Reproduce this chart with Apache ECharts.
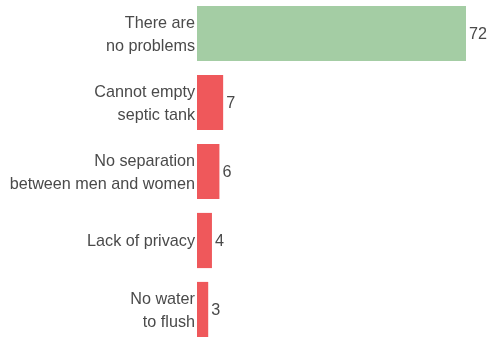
<!DOCTYPE html>
<html><head><meta charset="utf-8">
<script src="https://cdn.jsdelivr.net/npm/echarts@6/dist/echarts.min.js"></script>
<style>html,body{margin:0;padding:0;background:#fff}#c{width:491px;height:337px}</style>
</head><body><div id="c"></div>
<script>
const categories = ["There are\nno problems", "Cannot empty\nseptic tank", "No separation\nbetween men and women", "Lack of privacy", "No water\nto flush"];
const values = [72, 7, 6, 4, 3];
const barColors = ["#a4cda4", "#ef585b", "#ef585b", "#ef585b", "#ef585b"];

const chart = echarts.init(document.getElementById('c'));
chart.setOption({
  animation: false,
  grid: {left: 197, width: 269, top: -1, height: 345, containLabel: false, outerBoundsMode: 'none'},
  xAxis: {type: 'value', min: 0, max: 72, show: false},
  yAxis: {type: 'category', data: categories, inverse: true,
    axisLine: {show: false}, axisTick: {show: false},
    axisLabel: {fontFamily: 'Liberation Sans', fontSize: 16.2, color: '#4a4a4a', lineHeight: 23, margin: 2, align: 'right',
      formatter: v => v.split('\n').map(s => '{a|' + s + '}').join('\n'),
      rich: {a: {fontFamily: 'Liberation Sans', fontSize: 16.2, color: '#4a4a4a', lineHeight: 23, padding: [3, 0, 0, 0]}}}},
  series: [{type: 'bar', barCategoryGap: '20%',
    data: values.map((v, i) => ({value: v, itemStyle: {color: barColors[i]}})),
    label: {show: true, position: 'right', distance: 3, offset: [0, 1.5], fontFamily: 'Liberation Sans', fontSize: 16.2, color: '#4a4a4a'}}]
});
</script></body></html>
